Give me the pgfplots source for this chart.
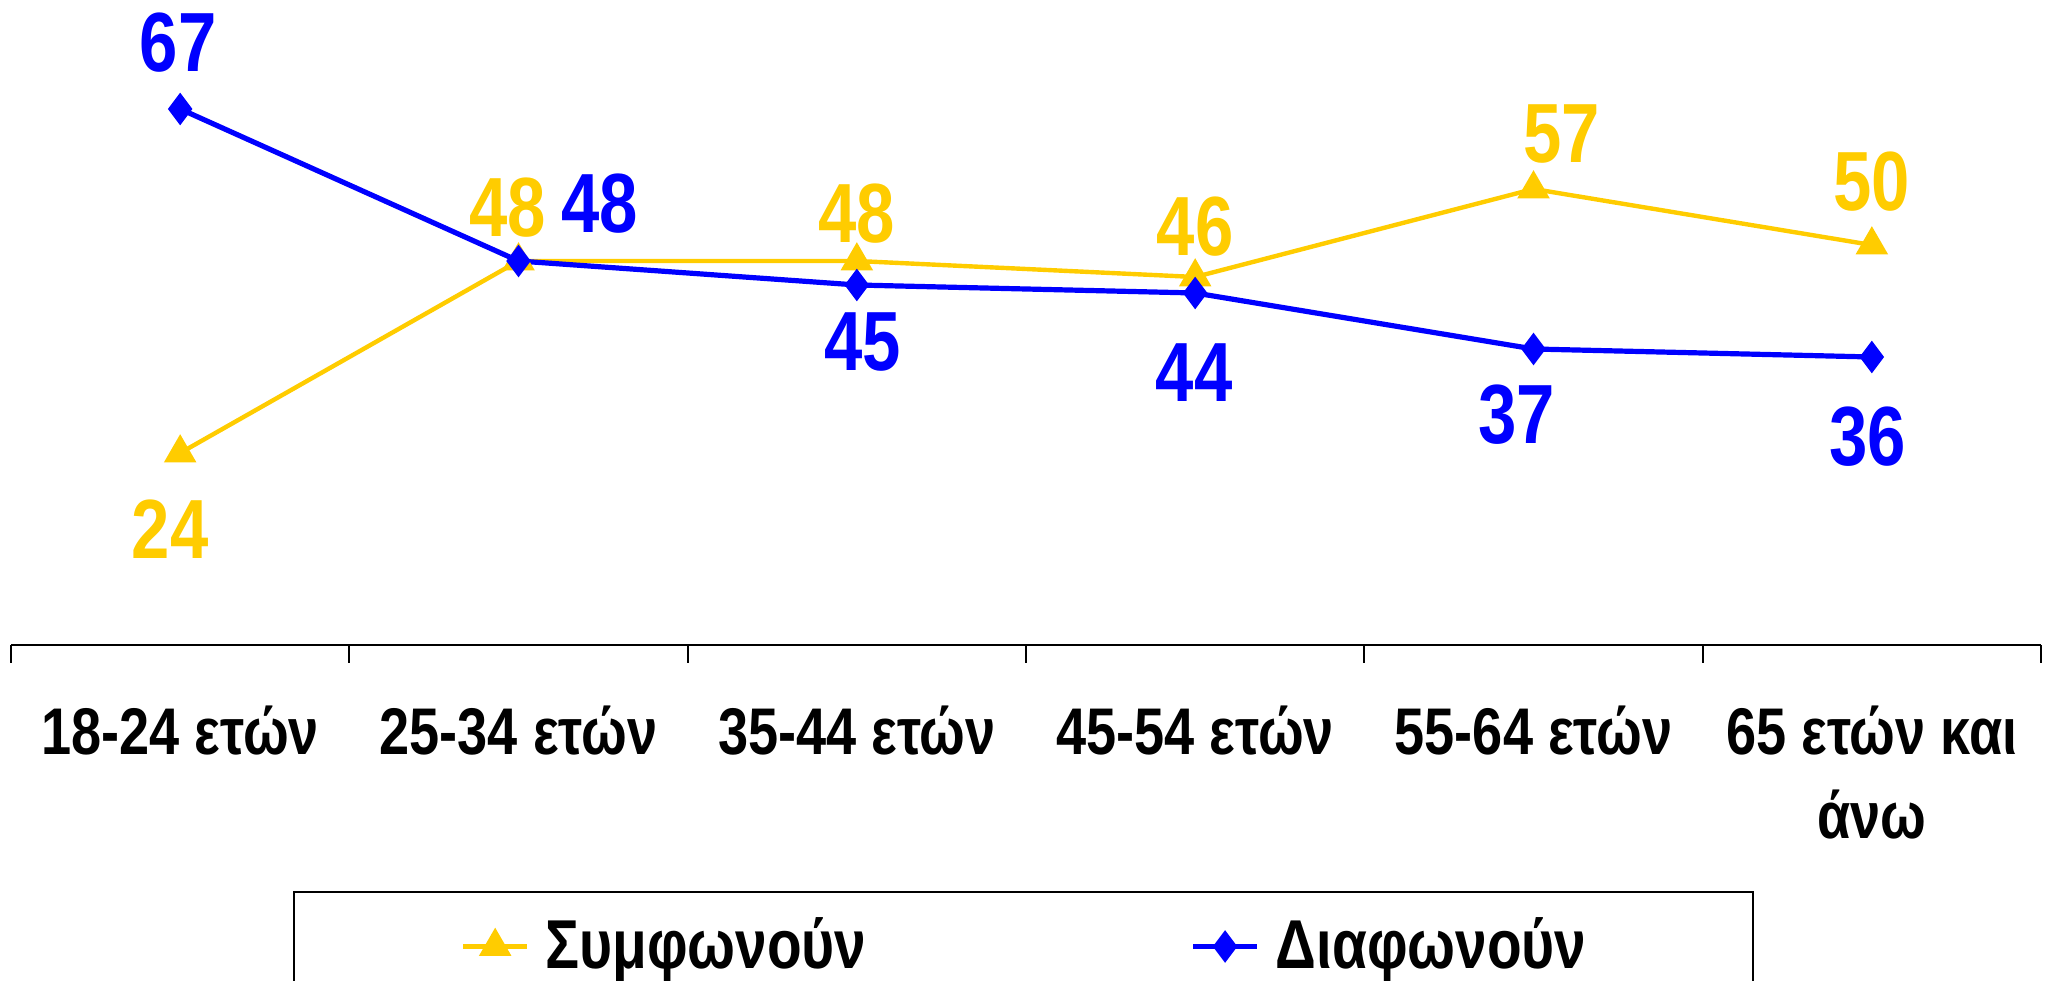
\documentclass[border=0pt]{standalone}
\usepackage{pgfplots}
\pgfplotsset{compat=1.18}
\usepackage{fontspec}
\setmainfont{Liberation Sans}
\newfontfamily\nb{Liberation Sans}[UprightFont={* Bold}, FakeStretch=0.82]
\definecolor{cyel}{HTML}{FFCC00}
\definecolor{cblu}{HTML}{0000FF}
\begin{document}
\begin{tikzpicture}
\useasboundingbox (-2.75pt,-84pt) rectangle (510pt,161.25pt);
\clip (-2.75pt,-84pt) rectangle (510pt,161.25pt);
\begin{axis}[
  scale only axis,
  width=507.5pt, height=160pt,
  xmin=-0.5, xmax=5.5, ymin=0, ymax=80,
  clip=false,
  hide y axis,
  axis x line*=bottom,
  x axis line style={-, line width=0.5pt, black},
  xtick={0,1,2,3,4,5},
  xticklabels={18-24 ετών, 25-34 ετών, 35-44 ετών, 45-54 ετών, 55-64 ετών, {65 ετών και\\άνω}},
  major tick length=0pt,
  minor xtick={-0.5,0.5,1.5,2.5,3.5,4.5,5.5},
  minor tick length=4.5pt,
  tick align=outside,
  minor tick style={line width=0.5pt, black},
  xticklabel style={font=\nb\fontsize{16.5}{21}\selectfont, align=center, anchor=north, inner sep=0pt, yshift=-15pt},
  legend columns=2,
  legend style={at={(axis description cs:0.1389,-0.3844)}, anchor=north west,
    draw=black, line width=0.5pt, inner xsep=41.75pt, inner ysep=4.5pt,
    font=\nb\fontsize{17.3}{20}\selectfont,
    nodes={inner xsep=0pt},
    /tikz/every odd column/.append style={column sep=4pt},
    /tikz/every even column/.append style={column sep=81pt}},
  legend image code/.code={\draw[mark repeat=2, mark phase=2, #1] plot coordinates {(0pt,0pt) (8pt,0pt) (16pt,0pt)};},
]
\addplot[cyel, line width=1.1pt, mark=triangle*, mark size=3.6pt, mark options={solid, fill=cyel, draw=cyel}]
  coordinates {(0,24) (1,48) (2,48) (3,46) (4,57) (5,50)};
\addlegendentry{Συμφωνούν}
\addplot[cblu, line width=1.3pt, mark=diamond*, mark size=3pt, mark options={solid, fill=cblu, draw=cblu}]
  coordinates {(0,67) (1,48) (2,45) (3,44) (4,37) (5,36)};
\addlegendentry{Διαφωνούν}
\begin{scope}[every node/.style={font=\nb\fontsize{21}{21}\selectfont, inner sep=0pt, anchor=center}]
\node[text=cyel, xshift=-2.5pt, yshift=-19pt] at (axis cs:0,24) {24};
\node[text=cyel, xshift=-2.75pt, yshift=13.25pt] at (axis cs:1,48) {48};
\node[text=cyel, yshift=11.75pt] at (axis cs:2,48) {48};
\node[text=cyel, yshift=12.5pt] at (axis cs:3,46) {46};
\node[text=cyel, xshift=7pt, yshift=13.75pt] at (axis cs:4,57) {57};
\node[text=cyel, yshift=15.75pt] at (axis cs:5,50) {50};
\node[text=cblu, xshift=-0.5pt, yshift=16.5pt] at (axis cs:0,67) {67};
\node[text=cblu, xshift=20.25pt, yshift=14.25pt] at (axis cs:1,48) {48};
\node[text=cblu, xshift=1.5pt, yshift=-14.25pt] at (axis cs:2,45) {45};
\node[text=cblu, xshift=-0.25pt, yshift=-20pt] at (axis cs:3,44) {44};
\node[text=cblu, xshift=-4.25pt, yshift=-16.5pt] at (axis cs:4,37) {37};
\node[text=cblu, xshift=-1pt, yshift=-20pt] at (axis cs:5,36) {36};
\end{scope}
\end{axis}
\end{tikzpicture}
\end{document}
